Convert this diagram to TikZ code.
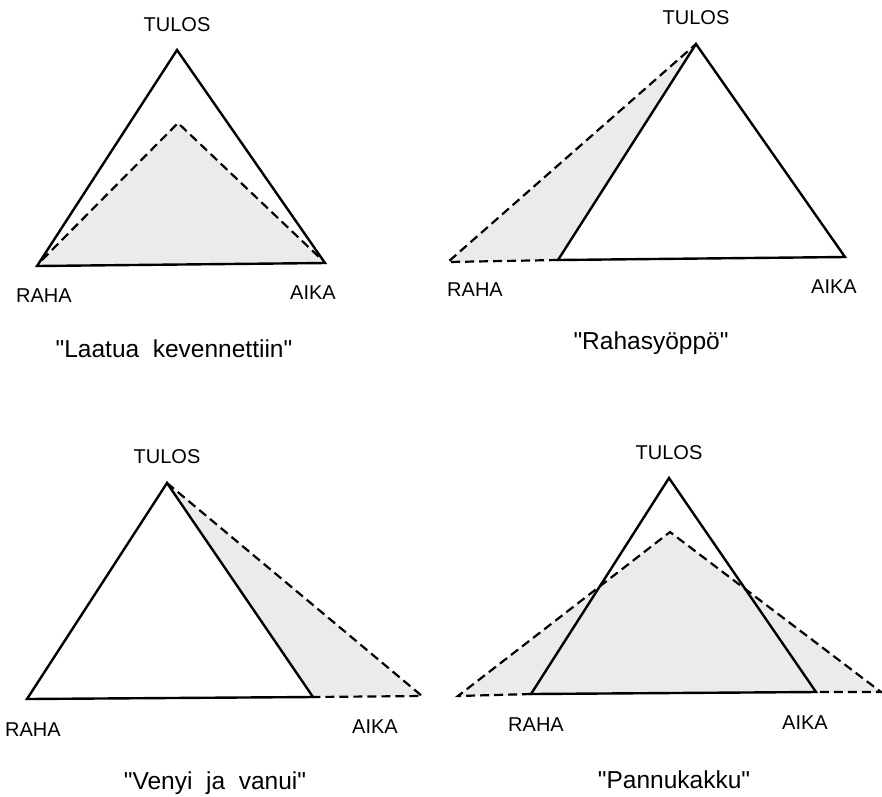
\documentclass[tikz,border=0pt]{standalone}
\usepackage{fontspec}
\setmainfont{Liberation Sans}[Ligatures=TeXOff]
\begin{document}
\begin{tikzpicture}[x=1pt,y=-1pt,
  solidtri/.style={draw=black,line width=2.4pt,line join=miter},
  dashtri/.style={draw=black,line width=2.2pt,dash pattern=on 9pt off 5pt},
  shade/.style={fill=black!8},
  corner/.style={font=\fontsize{20}{22}\selectfont,inner sep=0pt},
  caption/.style={font=\fontsize{24.5}{26}\selectfont,inner sep=0pt}]
\useasboundingbox (0,0) rectangle (882,796);

% --- Laatua kevennettiin ---
\coordinate (aT) at (177,50);
\coordinate (aR) at (37,266);
\coordinate (aA) at (325,263);
\coordinate (aT2) at (178,123);
\coordinate (aR2) at (42,260);
\coordinate (aA2) at (319,257);
\fill[shade] (aT2) -- (aA2) -- (aA) -- (aR) -- (aR2) -- cycle;
\draw[dashtri] (aR2) -- (aT2) -- (aA2);
\draw[solidtri] (aT) -- (aA) -- (aR) -- cycle;
\node[corner] (aTl) at (177,25) {TULOS};
\node[corner] (aRl) at (44,296) {RAHA};
\node[corner] (aAl) at (313,293) {AIKA};
\node[caption] (aCap) at (174,349) {"Laatua\ \ kevennettiin"};

% --- Rahasyöppö ---
\coordinate (bT) at (696,44);
\coordinate (bR) at (558,260);
\coordinate (bA) at (845,257);
\coordinate (bR2) at (448,262);
\fill[shade] (bR2) -- (bT) -- (bR) -- cycle;
\draw[dashtri] (bR) -- (bR2) -- (bT);
\draw[solidtri] (bT) -- (bA) -- (bR) -- cycle;
\node[corner] (bTl) at (696,18) {TULOS};
\node[corner] (bRl) at (475,290) {RAHA};
\node[corner] (bAl) at (834,287) {AIKA};
\node[caption] (bCap) at (651,343) {"Rahasyöppö"};

% --- Venyi ja vanui ---
\coordinate (cT) at (167,483);
\coordinate (cR) at (27,699);
\coordinate (cA) at (313,697);
\coordinate (cA2) at (422,696);
\fill[shade] (cT) -- (cA2) -- (cA) -- cycle;
\draw[dashtri] (cT) -- (cA2) -- (cA);
\draw[solidtri] (cT) -- (cA) -- (cR) -- cycle;
\node[corner] (cTl) at (167,457) {TULOS};
\node[corner] (cRl) at (33,730) {RAHA};
\node[corner] (cAl) at (375,727) {AIKA};
\node[caption] (cCap) at (215,783) {"Venyi\ \ ja\ \ vanui"};

% --- Pannukakku ---
\coordinate (dT) at (669,478);
\coordinate (dR) at (531,694);
\coordinate (dA) at (816,692);
\coordinate (dT2) at (670,532);
\coordinate (dR2) at (458,696);
\coordinate (dA2) at (881,692);
\fill[shade] (dT2) -- (dA2) -- (dR2) -- cycle;
\draw[dashtri] (dR) -- (dR2) -- (dT2) -- (dA2) -- (dA);
\draw[solidtri] (dT) -- (dA) -- (dR) -- cycle;
\node[corner] (dTl) at (669,453) {TULOS};
\node[corner] (dRl) at (536,725) {RAHA};
\node[corner] (dAl) at (805,723) {AIKA};
\node[caption] (dCap) at (674,780) {"Pannukakku"};
\end{tikzpicture}
\end{document}
